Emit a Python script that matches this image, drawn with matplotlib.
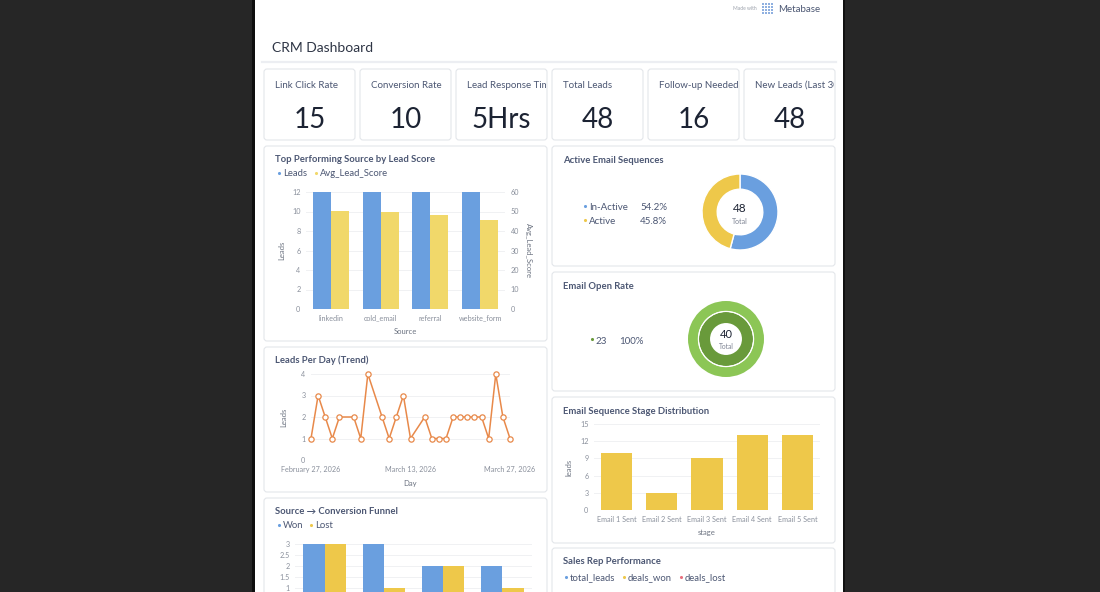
import numpy as np
import matplotlib
matplotlib.use("Agg")
import matplotlib.pyplot as plt
import matplotlib.dates as mdates
from matplotlib.patches import FancyBboxPatch, Rectangle

plt.rcParams['font.family'] = ['Lato', 'DejaVu Sans']

# ---- data ----
kpi_titles = ["Link Click Rate", "Conversion Rate", "Lead Response Time",
              "Total Leads", "Follow-up Needed", "New Leads (Last 30 Days)"]
kpi_values = ["15", "10", "5Hrs", "48", "16", "48"]

sources = ["linkedin", "cold_email", "referral", "website_form"]
source_leads = [12, 12, 12, 12]
source_avg_score = [50.5, 49.6, 48.1, 45.5]

trend_days = ["2026-02-27", "2026-02-28", "2026-03-01", "2026-03-02", "2026-03-03",
              "2026-03-05", "2026-03-06", "2026-03-07", "2026-03-09", "2026-03-10",
              "2026-03-11", "2026-03-12", "2026-03-13", "2026-03-15", "2026-03-16",
              "2026-03-17", "2026-03-18", "2026-03-19", "2026-03-20", "2026-03-21",
              "2026-03-22", "2026-03-23", "2026-03-24", "2026-03-25", "2026-03-26",
              "2026-03-27"]
trend_leads = [1, 3, 2, 1, 2, 2, 1, 4, 2, 1, 2, 3, 1, 2, 1, 1, 1, 2, 2, 2, 2, 2, 1, 4, 2, 1]

funnel_sources = ["linkedin", "cold_email", "referral", "website_form"]
funnel_won = [3, 3, 2, 2]
funnel_lost = [3, 1, 2, 1]

seq_labels = ["In-Active", "Active"]
seq_counts = [26, 22]

open_label = "23"
open_values = [40]

stages = ["Email 1 Sent", "Email 2 Sent", "Email 3 Sent", "Email 4 Sent", "Email 5 Sent"]
stage_leads = [10, 3, 9, 13, 13]

rep_series = ["total_leads", "deals_won", "deals_lost"]

# ---- style ----
BLUE = "#6a9fdf"
YELLOW = "#eec84a"
LYELLOW = "#f1d86a"
ORANGE = "#e8894a"
RED = "#e8707e"
LGREEN = "#8cc656"
DGREEN = "#699a3b"
TXT = "#4c5773"
TICK = "#8a909c"
LAB = "#6b7280"
BORDER = "#e3e6ea"

W, H = 1100, 592
fig = plt.figure(figsize=(11, 5.92), dpi=100)
fig.patch.set_facecolor("#262626")


def rect(x0, y0, x1, y1):
    return [x0 / W, 1 - y1 / H, (x1 - x0) / W, (y1 - y0) / H]


bg = fig.add_axes([0, 0, 1, 1])
bg.set_xlim(0, W)
bg.set_ylim(H, 0)
bg.axis("off")

# page panel
bg.add_patch(Rectangle((252, -5), 3, H + 10, color="#0e0e0e", lw=0))
bg.add_patch(Rectangle((255, -5), 589, H + 10, color="#ffffff", lw=0))
bg.add_patch(Rectangle((843, -5), 2, H + 10, color="#111111", lw=0))

# header
bg.text(757, 8.5, "Made with", fontsize=3.6, color="#9aa0aa", ha="right", va="center")
gx, gy = np.meshgrid(np.arange(4), np.arange(4))
bg.scatter(763 + gx.ravel() * 3, 4 + gy.ravel() * 3, s=1.6, color="#8fb0e0", marker="s", lw=0)
bg.text(778, 9, "Metabase", fontsize=7, color=TXT, va="center")
bg.text(272, 47.5, "CRM Dashboard", fontsize=10, color="#2e3545", va="center")
bg.plot([262, 836], [62, 62], color="#eceef2", lw=1.6)


def card(x0, y0, x1, y1):
    p = FancyBboxPatch((x0, y0), x1 - x0, y1 - y0,
                       boxstyle="round,pad=0,rounding_size=3",
                       fc="white", ec=BORDER, lw=0.8)
    bg.add_patch(p)
    return p


def title(x, y, s):
    bg.text(x, y + 1.5, s, fontsize=6.8, color=TXT, weight="bold", va="center")


def legend(xs, y, names, colors):
    for x, n, c in zip(xs, names, colors):
        bg.scatter([x], [y], s=5, color=c, lw=0)
        bg.text(x + 4, y + 1, n, fontsize=6.8, color=TXT, va="center")


# KPI cards
for i, (t, v) in enumerate(zip(kpi_titles, kpi_values)):
    x0 = 264 + i * 96
    card(x0, 69, x0 + 91, 140)
    kax = fig.add_axes(rect(x0 + 1, 70, x0 + 90, 139))
    kax.set_xlim(0, 89)
    kax.set_ylim(69, 0)
    kax.axis("off")
    kax.text(10, 15, t, fontsize=7, color=TXT, va="center", clip_on=True)
    kax.text(44.5, 50, v, fontsize=20, color="#1c2333", ha="center", va="center")

# other cards
card(264, 146, 547, 341)
card(264, 347, 547, 492)
card(264, 498, 547, 610)
card(552, 146, 835, 266)
card(552, 272, 835, 391)
card(552, 397, 835, 543)
card(552, 548, 835, 610)

title(275, 158, "Top Performing Source by Lead Score")
title(275, 359, "Leads Per Day (Trend)")
title(275, 510, "Source \u2192 Conversion Funnel")
title(563, 159, "Active Email Sequences")
title(563, 285, "Email Open Rate")
title(563, 410, "Email Sequence Stage Distribution")
title(563, 560, "Sales Rep Performance")

legend([279, 316], 173, ["Leads", "Avg_Lead_Score"], [BLUE, LYELLOW])
legend([279, 311], 525, ["Won", "Lost"], [BLUE, YELLOW])
legend([566, 624, 681], 577, rep_series, [BLUE, YELLOW, RED])


def style(ax):
    for s in ax.spines.values():
        s.set_visible(False)
    ax.tick_params(length=0, labelsize=5.2, colors=TICK, pad=4)
    ax.grid(axis="y", color="#f0f1f3", lw=0.7)
    ax.set_axisbelow(True)
    ax.set_facecolor("none")


# bar chart: source by lead score
ax = fig.add_axes(rect(306, 192, 505, 309))
style(ax)
x = np.arange(len(sources))
ax.bar(x - 0.18, source_leads, 0.36, color=BLUE)
ax.set_ylim(0, 12)
ax.set_yticks(np.arange(0, 13, 2))
ax.set_xlim(-0.5, 3.5)
ax.set_xticks(x, sources)
ax.set_ylabel("Leads", fontsize=5.5, color=LAB, labelpad=5)
ax.set_xlabel("Source", fontsize=5.5, color=LAB, labelpad=5)
ax2 = ax.twinx()
for s in ax2.spines.values():
    s.set_visible(False)
ax2.tick_params(length=0, labelsize=5.2, colors=TICK, pad=4)
ax2.bar(x + 0.18, source_avg_score, 0.36, color=LYELLOW)
ax2.set_ylim(0, 60)
ax2.set_yticks(np.arange(0, 61, 10))
ax2.set_ylabel("Avg_Lead_Score", fontsize=5.5, color=LAB, rotation=270, labelpad=9)

# line chart: leads per day
ax = fig.add_axes(rect(311, 374, 510, 460))
style(ax)
days = np.array(trend_days, dtype="datetime64[D]").astype("O")
ax.plot(days, trend_leads, color=ORANGE, lw=1.1, marker="o", ms=3.8,
        mfc="white", mec=ORANGE, mew=0.9, clip_on=False)
ax.set_ylim(0, 4)
ax.set_yticks(range(5))
ax.set_xlim(days[0], days[-1])
ax.set_xticks([days[0], days[12], days[-1]])
ax.xaxis.set_major_formatter(mdates.DateFormatter("%B %d, %Y"))
ax.set_ylabel("Leads", fontsize=5.5, color=LAB, labelpad=10)
ax.set_xlabel("Day", fontsize=5.5, color=LAB, labelpad=5)
ax.axhline(0, color="#e4e6ea", lw=0.7)

# funnel (cut off at bottom of the screenshot)
ax = fig.add_axes(rect(295, 544, 532, 610))
style(ax)
x = np.arange(len(funnel_sources))
ax.bar(x - 0.18, funnel_won, 0.36, color=BLUE)
ax.bar(x + 0.18, funnel_lost, 0.36, color=YELLOW)
ax.set_ylim(0, 3)
ax.set_yticks([1, 1.5, 2, 2.5, 3], ["1", "1.5", "2", "2.5", "3"])
ax.set_xlim(-0.5, 3.5)
ax.set_xticks(x, funnel_sources)
ax.tick_params(axis="x", labelbottom=False)

# donut: active email sequences
ax = fig.add_axes(rect(702, 174, 778, 250))
ax.pie(seq_counts, colors=[BLUE, YELLOW], startangle=90, counterclock=False,
       radius=1, wedgeprops=dict(width=0.4, edgecolor="white", lw=1))
ax.set_xlim(-1, 1)
ax.set_ylim(-1, 1)
ax.text(0, 0.08, str(sum(seq_counts)), ha="center", va="center", fontsize=8.5, color="#1c2333")
ax.text(0, -0.24, "Total", ha="center", va="center", fontsize=5, color="#7a8090")
total = sum(seq_counts)
for i, (n, c) in enumerate(zip(seq_labels, [BLUE, YELLOW])):
    yy = 207 + i * 14
    bg.scatter([585], [yy - 1], s=5, color=c, lw=0)
    bg.text(589, yy + 1, n, fontsize=7, color=TXT, va="center")
    bg.text(640, yy + 1, f"{seq_counts[i] / total * 100:.1f}%", fontsize=7, color=TXT, va="center")

# donut: email open rate
ax = fig.add_axes(rect(688, 301, 764, 377))
ax.pie(open_values, colors=[LGREEN], radius=1, startangle=90,
       wedgeprops=dict(width=0.26, edgecolor="none"))
ax.pie(open_values, colors=[DGREEN], radius=0.71, startangle=90,
       wedgeprops=dict(width=0.29, edgecolor="none"))
ax.add_patch(plt.Circle((0, 0), 0.725, fill=False, ec="white", lw=0.8))
ax.set_xlim(-1, 1)
ax.set_ylim(-1, 1)
ax.text(0, 0.12, str(open_values[0]), ha="center", va="center", fontsize=8, color="#1c2333")
ax.text(0, -0.2, "Total", ha="center", va="center", fontsize=4.8, color="#7a8090")
bg.scatter([592], [339], s=5, color=DGREEN, lw=0)
bg.text(596, 341, open_label, fontsize=7, color=TXT, va="center")
bg.text(619, 341, "100%", fontsize=7, color=TXT, va="center")

# stage distribution
ax = fig.add_axes(rect(594, 424, 820, 510))
style(ax)
x = np.arange(len(stages))
ax.bar(x, stage_leads, 0.69, color=YELLOW)
ax.set_ylim(0, 15)
ax.set_yticks(range(0, 16, 3))
ax.set_xlim(-0.5, 4.5)
ax.set_xticks(x, stages)
ax.set_ylabel("leads", fontsize=5.5, color=LAB, labelpad=5)
ax.set_xlabel("stage", fontsize=5.5, color=LAB, labelpad=5)

fig.savefig("out.png", dpi=100, facecolor=fig.get_facecolor())
